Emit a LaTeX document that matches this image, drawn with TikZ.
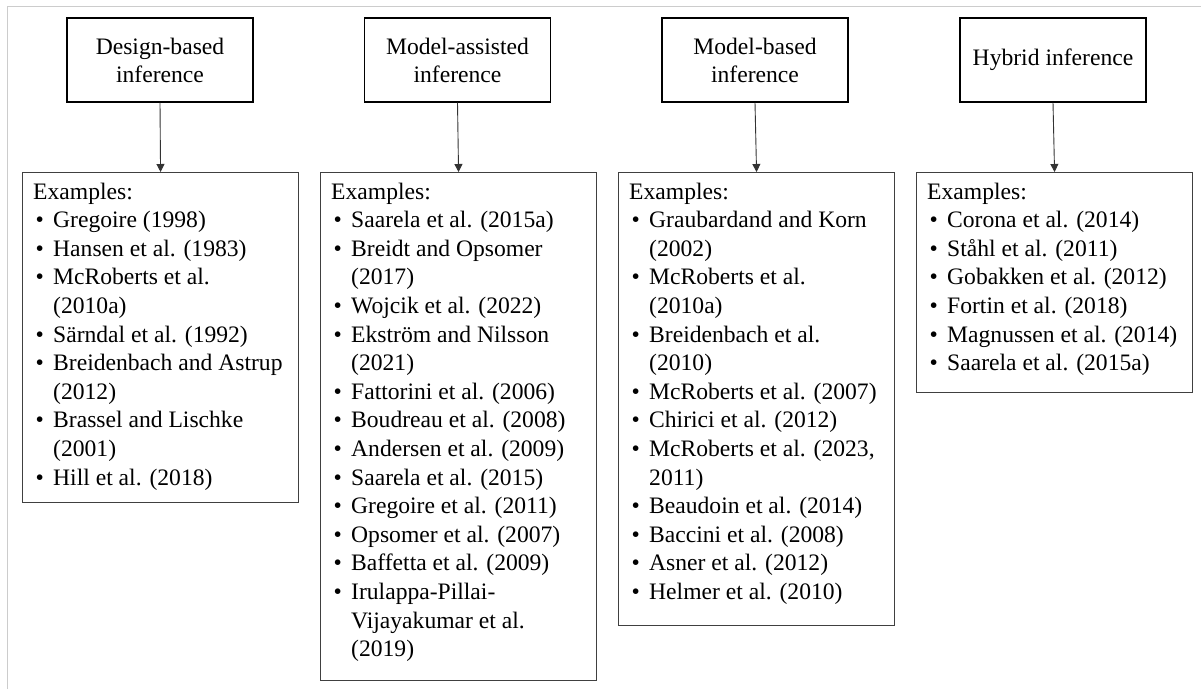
\documentclass[tikz,border=0pt]{standalone}
\usepackage{fontspec}
\setmainfont{Liberation Serif}
\usetikzlibrary{arrows.meta}
\newcommand{\bul}{\makebox[20pt][l]{\hspace{2.5pt}\textbullet}}
\newcommand{\cnt}{\hspace*{20pt}}
\newcommand{\exlist}[1]{\parbox[t]{300pt}{\fontsize{23.6pt}{28.6pt}\selectfont\raggedright #1}}
\begin{document}
\begin{tikzpicture}[x=1pt,y=-1pt,
  topbox/.style={draw=black, line width=1.4pt, minimum width=186pt, minimum height=84pt,
    align=center, font=\fontsize{23.6pt}{28pt}\selectfont, inner sep=0pt},
  lowbox/.style={draw=black!75, line width=1.1pt, anchor=north west, inner sep=0pt},
  listtext/.style={anchor=base west, inner sep=0pt},
  link/.style={draw=black!80, line width=0.9pt, -{Triangle[width=8pt,length=8pt]}}]
\useasboundingbox (0,0) rectangle (1201,689);
\draw[black!20, line width=1pt] (7,689) -- (7,6) -- (1201,6);

\node[topbox] (t1) at (160,60) {Design-based\\inference};
\node[topbox] (t2) at (457.5,60) {Model-assisted\\inference};
\node[topbox] (t3) at (755,60) {Model-based\\inference};
\node[topbox] (t4) at (1053,60) {Hybrid inference};

\node[lowbox, minimum width=276pt, minimum height=330pt] (b1) at (22,172) {};
\node[lowbox, minimum width=276pt, minimum height=508pt] (b2) at (320,172) {};
\node[lowbox, minimum width=276pt, minimum height=453pt] (b3) at (618,172) {};
\node[lowbox, minimum width=276pt, minimum height=220pt] (b4) at (916,172) {};

\draw[link] (t1.south) -- (b1.north);
\draw[link] (t2.south) -- (b2.north);
\draw[link] (t3.south) -- (b3.north);
\draw[link] (t4.south) -- (b4.north);

\node[listtext] (l1) at (33,199) {\exlist{Examples:\\
\bul Gregoire (1998)\\
\bul Hansen et al. (1983)\\
\bul McRoberts et al.\\
\cnt (2010a)\\
\bul Särndal et al. (1992)\\
\bul Breidenbach and Astrup\\
\cnt (2012)\\
\bul Brassel and Lischke\\
\cnt (2001)\\
\bul Hill et al. (2018)}};

\node[listtext] (l2) at (331,199) {\exlist{Examples:\\
\bul Saarela et al. (2015a)\\
\bul Breidt and Opsomer\\
\cnt (2017)\\
\bul Wojcik et al. (2022)\\
\bul Ekström and Nilsson\\
\cnt (2021)\\
\bul Fattorini et al. (2006)\\
\bul Boudreau et al. (2008)\\
\bul Andersen et al. (2009)\\
\bul Saarela et al. (2015)\\
\bul Gregoire et al. (2011)\\
\bul Opsomer et al. (2007)\\
\bul Baffetta et al. (2009)\\
\bul Irulappa-Pillai-\\
\cnt Vijayakumar et al.\\
\cnt (2019)}};

\node[listtext] (l3) at (629,199) {\exlist{Examples:\\
\bul Graubardand and Korn\\
\cnt (2002)\\
\bul McRoberts et al.\\
\cnt (2010a)\\
\bul Breidenbach et al.\\
\cnt (2010)\\
\bul McRoberts et al. (2007)\\
\bul Chirici et al. (2012)\\
\bul McRoberts et al. (2023,\\
\cnt 2011)\\
\bul Beaudoin et al. (2014)\\
\bul Baccini et al. (2008)\\
\bul Asner et al. (2012)\\
\bul Helmer et al. (2010)}};

\node[listtext] (l4) at (927,199) {\exlist{Examples:\\
\bul Corona et al. (2014)\\
\bul Ståhl et al. (2011)\\
\bul Gobakken et al. (2012)\\
\bul Fortin et al. (2018)\\
\bul Magnussen et al. (2014)\\
\bul Saarela et al. (2015a)}};
\end{tikzpicture}
\end{document}
